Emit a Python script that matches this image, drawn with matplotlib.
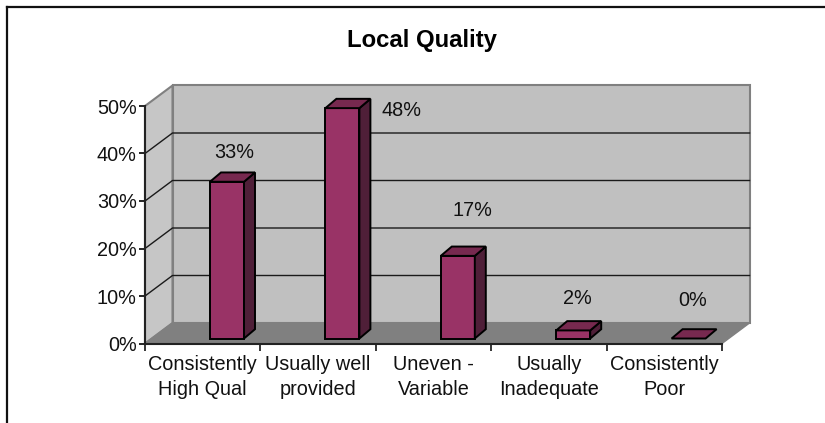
import matplotlib
matplotlib.use("Agg")
import matplotlib.pyplot as plt
from matplotlib.patches import Polygon

plt.rcParams['font.family'] = ['Liberation Sans', 'DejaVu Sans']

categories = ["Consistently\nHigh Qual", "Usually well\nprovided", "Uneven -\nVariable",
              "Usually\nInadequate", "Consistently\nPoor"]
heights = [33.0, 48.5, 17.4, 1.7, 0.0]
bar_labels = ["33%", "48%", "17%", "2%", "0%"]
y_ticks = [0, 10, 20, 30, 40, 50]

# where the value labels sit (pixels in the picture, they were dragged by hand in the original)
label_px = [(234, 153), (401, 111), (472, 210), (577, 298), (693, 301)]

W, H = 825, 423
X0, X1 = 145, 722
Y0, Y50 = 343.5, 106
px_x = (X1 - X0) / 5
px_y = (Y0 - Y50) / 50

# depth of the fake 3d box, in data units
dx = 27.5 / px_x
dy = 20.5 / px_y
# bar geometry
bar_off = 65 / px_x
bar_w = 34 / px_x
bar_base = 5 / px_y
bar_dx = 11 / px_x
bar_dy = 9.3 / px_y

wall = "#C0C0C0"
floor = "#808080"
front = "#993366"
side = "#4F1F38"
top = "#77294F"
fs = 14.3

fig = plt.figure(figsize=(W / 100, H / 100), dpi=100)
ax = fig.add_axes([X0 / W, 1 - Y0 / H, (X1 - X0) / W, (Y0 - Y50) / H])
ax.set_xlim(0, 5)
ax.set_ylim(0, 50)
ax.patch.set_visible(False)

# walls and floor
ax.add_patch(Polygon([(dx, dy), (5 + dx, dy), (5 + dx, 50 + dy), (dx, 50 + dy)], closed=True,
                     fc=wall, ec=floor, lw=1.5, clip_on=False, zorder=1))
ax.add_patch(Polygon([(0, 0), (dx, dy), (dx, 50 + dy), (0, 50)], closed=True,
                     fc="#C6C6C6", ec=floor, lw=1.5, clip_on=False, zorder=1))
ax.add_patch(Polygon([(0, 0), (5, 0), (5 + dx, dy), (dx, dy)], closed=True,
                     fc=floor, ec=floor, lw=1, clip_on=False, zorder=1.5))

for v in y_ticks[1:-1]:
    ax.plot([0, dx, 5 + dx], [v, v + dy, v + dy], color="#1a1a1a", lw=1.0, clip_on=False, zorder=1.2)

# bars
for i, h in enumerate(heights):
    x = i + bar_off
    b = bar_base
    if h > 0:
        ax.add_patch(Polygon([(x, b), (x + bar_w, b), (x + bar_w, b + h), (x, b + h)], closed=True,
                             fc=front, ec="black", lw=1.4, clip_on=False, zorder=3))
        ax.add_patch(Polygon([(x + bar_w, b), (x + bar_w + bar_dx, b + bar_dy),
                              (x + bar_w + bar_dx, b + h + bar_dy), (x + bar_w, b + h)], closed=True,
                             fc=side, ec="black", lw=1.4, clip_on=False, zorder=3))
    ax.add_patch(Polygon([(x, b + h), (x + bar_w, b + h), (x + bar_w + bar_dx, b + h + bar_dy),
                          (x + bar_dx, b + h + bar_dy)], closed=True,
                         fc=top, ec="black", lw=1.4, clip_on=False, zorder=3))

# value labels
for s, (px, py) in zip(bar_labels, label_px):
    ax.text((px - X0) / px_x, (Y0 - py) / px_y, s, ha="center", va="center", fontsize=fs,
            color="#111111", zorder=4, clip_on=False)

# axes
for s in ["top", "right"]:
    ax.spines[s].set_visible(False)
ax.spines["left"].set_color("#222222")
ax.spines["left"].set_linewidth(1.5)
ax.spines["bottom"].set_color("#222222")
ax.spines["bottom"].set_linewidth(1.5)
ax.spines["left"].set_zorder(2)
ax.spines["bottom"].set_zorder(2)

ax.set_yticks(y_ticks)
ax.set_yticklabels([f"{v}%" for v in y_ticks], fontsize=fs, color="#111111")
ax.tick_params(axis="y", length=4, width=1.2, pad=2)
ax.set_xticks(range(6))
ax.set_xticklabels([])
ax.tick_params(axis="x", which="major", length=5, width=1.1)
ax.set_xticks([i + 0.5 for i in range(5)], minor=True)
ax.set_xticklabels(categories, minor=True, fontsize=fs, color="#111111", linespacing=1.42)
ax.tick_params(axis="x", which="minor", length=0, pad=8)

fig.text(422 / W, 1 - 40 / H, "Local Quality", ha="center", va="center", fontsize=17.2,
         fontweight="bold", color="black")

# chart frame, only top and left are inside the crop
fig.add_artist(plt.Line2D([6.5 / W, 6.5 / W], [0, 1 - 7.5 / H], color="#111111", lw=1.6))
fig.add_artist(plt.Line2D([6.5 / W, 1], [1 - 7.5 / H, 1 - 7.5 / H], color="#111111", lw=1.6))

fig.savefig("out.png", dpi=100)
